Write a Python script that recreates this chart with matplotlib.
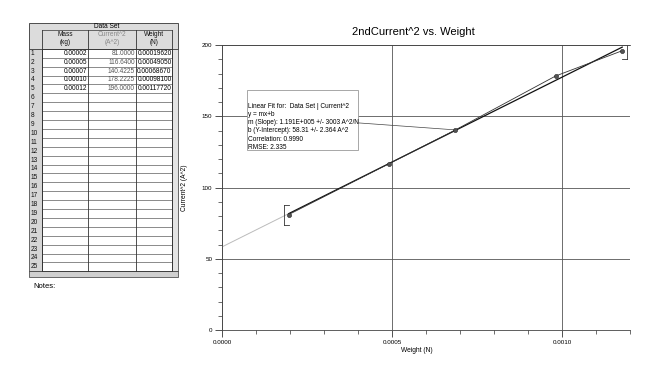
import numpy as np
import matplotlib.pyplot as plt
from matplotlib.patches import Rectangle
from matplotlib.ticker import MultipleLocator

plt.rcParams['font.family'] = ['Liberation Sans', 'DejaVu Sans']

# data set (table + chart)
mass = ["0.00002", "0.00005", "0.00007", "0.00010", "0.00012"]
current_sq_txt = ["81.0000", "116.6400", "140.4225", "178.2225", "196.0000"]
weight_txt = ["0.00019620", "0.00049050", "0.00068670", "0.00098100", "0.00117720"]
weight = [0.0001962, 0.0004905, 0.0006867, 0.000981, 0.0011772]
current_sq = [81.0, 116.64, 140.4225, 178.2225, 196.0]

# linear fit shown in the box
slope = 1.191e5
intercept = 58.31
fit_text = ("Linear Fit for:  Data Set | Current^2\n"
            "y = mx+b\n"
            "m (Slope): 1.191E+005 +/- 3003 A^2/N\n"
            "b (Y-Intercept): 58.31 +/- 2.364 A^2\n"
            "Correlation: 0.9990\n"
            "RMSE: 2.335")
err_idx = [0, 4]
err_size = [7.0, 6.0]

fig = plt.figure(figsize=(6.5, 3.67), dpi=100)

# ---- table on the left, drawn in pixel coords ----
bg = fig.add_axes([0, 0, 1, 1])
bg.set_xlim(0, 650)
bg.set_ylim(367, 0)
bg.axis("off")

cols = [29, 42, 88, 136, 172, 178]
row_top = 48.8
row_h = 8.9
n_rows = 25
bottom = row_top + n_rows * row_h
tcol = "#333333"
fs = 4.7

bg.add_patch(Rectangle((cols[0], 23), cols[5] - cols[0], row_top - 23,
                       facecolor="#dcdcdc", edgecolor=tcol, lw=0.6))
bg.add_patch(Rectangle((cols[0], row_top), cols[1] - cols[0], bottom - row_top,
                       facecolor="#d6d6d6", edgecolor=tcol, lw=0.5))
bg.add_patch(Rectangle((cols[1], row_top), cols[4] - cols[1], bottom - row_top,
                       facecolor="white", edgecolor=tcol, lw=0.6))
bg.add_patch(Rectangle((cols[4], row_top), cols[5] - cols[4], bottom - row_top,
                       facecolor="#e4e4e4", edgecolor=tcol, lw=0.5))
bg.add_patch(Rectangle((cols[0], bottom), cols[5] - cols[0], 6,
                       facecolor="#cfcfcf", edgecolor=tcol, lw=0.5))
bg.plot([cols[1], cols[4]], [29.5, 29.5], color=tcol, lw=0.5)
for x in cols[1:5]:
    bg.plot([x, x], [29.5, bottom], color=tcol, lw=0.6)
for i in range(n_rows + 1):
    y = row_top + i * row_h
    bg.plot([cols[1], cols[4]], [y, y], color=tcol, lw=0.4)
for i in range(n_rows):
    y = row_top + (i + 0.5) * row_h
    bg.text(cols[0] + 2, y, str(i + 1), fontsize=fs, va="center", ha="left", color="#111111")

bg.text((cols[1] + cols[4]) / 2, 26.3, "Data Set", fontsize=fs, ha="center", va="center")
heads = [("Mass", "(kg)", "#111111"), ("Current^2", "(A^2)", "#888888"), ("Weight", "(N)", "#111111")]
for j, (h1, h2, c) in enumerate(heads):
    xc = (cols[j + 1] + cols[j + 2]) / 2
    bg.text(xc, 35, h1, fontsize=fs, ha="center", va="center", color=c)
    bg.text(xc, 43, h2, fontsize=fs, ha="center", va="center", color=c)

for i in range(len(mass)):
    y = row_top + (i + 0.5) * row_h
    bg.text(cols[2] - 1, y, mass[i], fontsize=fs, ha="right", va="center")
    bg.text(cols[3] - 1, y, current_sq_txt[i], fontsize=fs, ha="right", va="center", color="#555555")
    bg.text(cols[4] - 0.5, y, weight_txt[i], fontsize=fs, ha="right", va="center")

bg.text(33, 287, "Notes:", fontsize=5.5, ha="left", va="center")

# ---- chart ----
ax = fig.add_axes([222 / 650, 1 - 330 / 367, 408 / 650, 285 / 367])
ax.set_xlim(0, 0.0012)
ax.set_ylim(0, 200)

ax.xaxis.set_major_locator(MultipleLocator(0.0005))
ax.xaxis.set_minor_locator(MultipleLocator(0.0001))
ax.yaxis.set_major_locator(MultipleLocator(50))
ax.yaxis.set_minor_locator(MultipleLocator(10))
ax.set_xticks([0, 0.0005, 0.0010])
ax.set_xticklabels(["0.0000", "0.0005", "0.0010"])
ax.tick_params(which="major", length=5, width=0.6, labelsize=4.5, pad=2, color="#333333")
ax.tick_params(which="minor", length=3, width=0.5, color="#333333")
ax.grid(True, which="major", color="#555555", lw=0.6)
for s in ["right"]:
    ax.spines[s].set_visible(False)
for s in ["left", "bottom", "top"]:
    ax.spines[s].set_linewidth(0.6)
    ax.spines[s].set_color("#444444")

ax.set_xlabel("Weight (N)", fontsize=4.8, labelpad=6)
ax.set_ylabel("Current^2 (A^2)", fontsize=4.8, labelpad=10)
ax.xaxis.set_label_coords(0.478, -0.06)

# fit line: light extension to the origin, dark over the data range
xw = np.array(weight)
ax.plot([0, xw[0]], [intercept, intercept + slope * xw[0]], color="#bbbbbb", lw=0.7)
ax.plot([xw[0], xw[-1]], [intercept + slope * xw[0], intercept + slope * xw[-1]],
        color="#111111", lw=0.9)
ax.plot(weight, current_sq, color="#333333", lw=0.6)
ax.plot(weight, current_sq, "o", color="#555555", ms=3, mec="#222222", mew=0.4)

# bracket error bars at first and last points
for k, e in zip(err_idx, err_size):
    xe, ye = weight[k], current_sq[k]
    side = -0.000015 if k == 0 else 0.000015
    ax.plot([xe + side, xe + side], [ye - e, ye + e], color="#333333", lw=0.6)
    ax.plot([xe + side, xe], [ye - e, ye - e], color="#333333", lw=0.6)
    ax.plot([xe + side, xe], [ye + e, ye + e], color="#333333", lw=0.6)

# fit info box with leader line
bx0, bx1 = 0.0000735, 0.0004
by0, by1 = 126.3, 168.4
ax.add_patch(Rectangle((bx0, by0), bx1 - bx0, by1 - by0, facecolor="white",
                       edgecolor="#999999", lw=0.6, zorder=4))
ax.plot([bx1, weight[2]], [(by0 + by1) / 2 - 2, current_sq[2]], color="#444444", lw=0.5, zorder=3)
ax.text(bx0 + 0.000002, 159.5, fit_text, fontsize=4.7, ha="left", va="top",
        linespacing=1.25, zorder=5)

fig.text(413 / 650, 1 - 32 / 367, "2ndCurrent^2 vs. Weight", fontsize=8, ha="center", va="center")

fig.savefig("out.png", dpi=100)
